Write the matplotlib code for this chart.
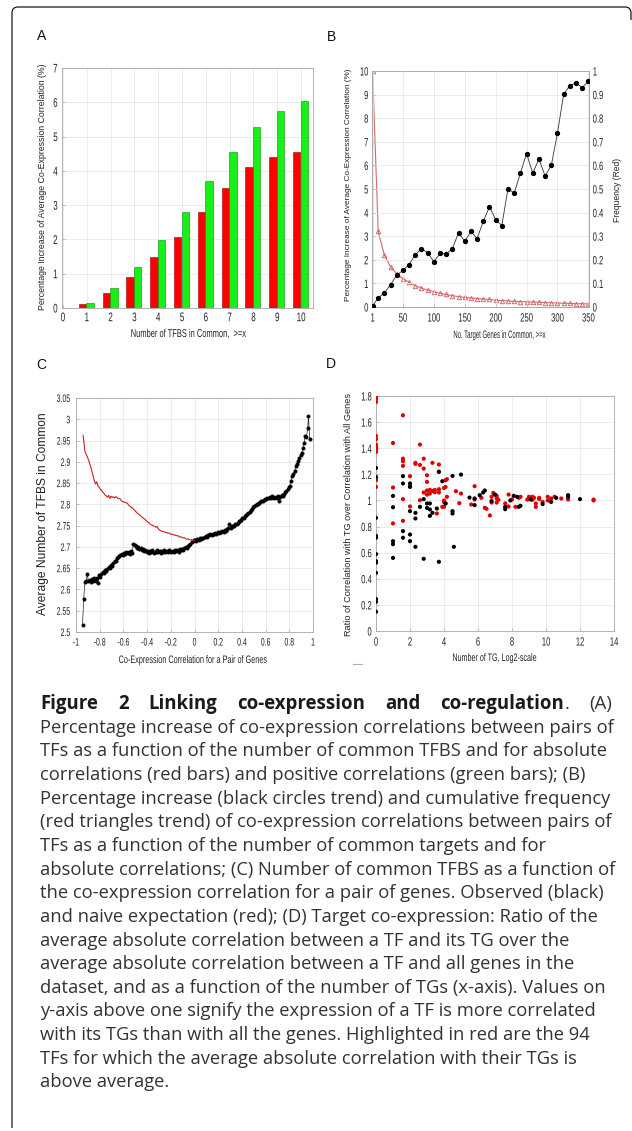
import matplotlib
matplotlib.use('Agg')
import matplotlib.pyplot as plt
from matplotlib import font_manager
from matplotlib.path import Path
from matplotlib.patches import PathPatch
from matplotlib.lines import Line2D
from matplotlib.patheffects import AbstractPathEffect
from matplotlib.transforms import Affine2D
import numpy as np

W, H = 632, 1131

# ---------------- data ----------------
# Panel A
tfbs_x = [1, 2, 3, 4, 5, 6, 7, 8, 9, 10]
abs_corr = [0.13, 0.44, 0.90, 1.49, 2.07, 2.79, 3.49, 4.12, 4.41, 4.54]
pos_corr = [0.16, 0.57, 1.20, 1.98, 2.80, 3.70, 4.55, 5.29, 5.76, 6.03]

# Panel B
tg_x = [1, 10, 20, 30, 40, 50, 60, 70, 80, 90, 100, 110, 120, 130, 140, 150, 160, 170,
        180, 190, 200, 210, 220, 230, 240, 250, 260, 270, 280, 290, 300, 310, 320, 330, 340, 350]
pct_inc = [0.05, 0.38, 0.6, 0.95, 1.35, 1.55, 1.8, 2.22, 2.47, 2.3, 1.92, 2.27, 2.25, 2.47,
           3.15, 2.78, 3.2, 2.9, 3.63, 4.25, 3.7, 3.45, 5.02, 4.82, 5.67, 6.5, 5.67, 6.27,
           5.55, 6.0, 7.37, 9.02, 9.38, 9.5, 9.3, 9.56]
freq = [1.0, 0.32, 0.22, 0.17, 0.14, 0.12, 0.105, 0.09, 0.08, 0.072, 0.065, 0.058, 0.053,
        0.048, 0.044, 0.041, 0.038, 0.036, 0.034, 0.032, 0.029, 0.027, 0.026, 0.024, 0.023,
        0.022, 0.021, 0.020, 0.019, 0.018, 0.017, 0.016, 0.015, 0.014, 0.014, 0.013]
b_xticks = [1, 50, 100, 150, 200, 250, 300, 350]

# Panel C
obs_x = list(np.round(np.arange(-0.945, 0.956, 0.01), 3)) + [0.962, 0.972]
obs_y = [2.517, 2.578, 2.617, 2.620, 2.636, 2.619, 2.622, 2.618, 2.624, 2.621,
         2.626, 2.619, 2.628, 2.615, 2.633, 2.630, 2.637, 2.641, 2.639, 2.645,
         2.643, 2.648, 2.652, 2.650, 2.657, 2.655, 2.662, 2.666, 2.668, 2.674,
         2.676, 2.679, 2.681, 2.684, 2.682, 2.686, 2.684, 2.688, 2.685, 2.689,
         2.684, 2.690, 2.686, 2.707, 2.704, 2.701, 2.698, 2.700, 2.695, 2.697,
         2.692, 2.695, 2.690, 2.693, 2.688, 2.691, 2.686, 2.690, 2.687, 2.692,
         2.685, 2.689, 2.687, 2.692, 2.688, 2.691, 2.686, 2.690, 2.688, 2.693,
         2.689, 2.691, 2.687, 2.692, 2.690, 2.688, 2.691, 2.689, 2.693, 2.690,
         2.692, 2.689, 2.694, 2.692, 2.695, 2.693, 2.697, 2.699, 2.697, 2.701,
         2.704, 2.708, 2.711, 2.713, 2.716, 2.717, 2.715, 2.719, 2.716, 2.720,
         2.718, 2.722, 2.721, 2.724, 2.726, 2.724, 2.728, 2.727, 2.730, 2.728,
         2.731, 2.730, 2.733, 2.731, 2.735, 2.733, 2.736, 2.734, 2.738, 2.736,
         2.740, 2.738, 2.741, 2.744, 2.755, 2.745, 2.748, 2.750, 2.749, 2.753,
         2.755, 2.757, 2.760, 2.762, 2.764, 2.767, 2.769, 2.772, 2.774, 2.777,
         2.780, 2.783, 2.787, 2.790, 2.793, 2.796, 2.799, 2.801, 2.802, 2.804,
         2.806, 2.808, 2.809, 2.811, 2.812, 2.813, 2.815, 2.816, 2.818, 2.816,
         2.819, 2.817, 2.815, 2.818, 2.814, 2.820, 2.809, 2.818, 2.822, 2.820,
         2.825, 2.828, 2.832, 2.835, 2.840, 2.844, 2.856, 2.866, 2.872, 2.878,
         2.889, 2.896, 2.903, 2.909, 2.915, 2.921, 2.933, 2.945, 2.961, 2.958,
         2.979, 3.007, 2.953]
exp_x = [-0.94] + list(np.round(np.arange(-0.935, -0.004, 0.01), 3)) + [0.002]
exp_y = [2.962,
         2.950, 2.925, 2.918, 2.912, 2.905, 2.896, 2.888, 2.877, 2.866, 2.855,
         2.848, 2.853, 2.844, 2.840, 2.836, 2.832, 2.829, 2.826, 2.822, 2.820,
         2.817, 2.821, 2.814, 2.819, 2.816, 2.818, 2.815, 2.818, 2.817, 2.814,
         2.814, 2.812, 2.808, 2.806, 2.806, 2.804, 2.804, 2.802, 2.798, 2.796,
         2.793, 2.792, 2.789, 2.786, 2.783, 2.780, 2.778, 2.776, 2.773, 2.771,
         2.768, 2.766, 2.764, 2.761, 2.758, 2.757, 2.754, 2.752, 2.751, 2.749,
         2.748, 2.746, 2.748, 2.742, 2.740, 2.738, 2.737, 2.736, 2.735, 2.734,
         2.734, 2.732, 2.733, 2.731, 2.729, 2.730, 2.728, 2.728, 2.726, 2.727,
         2.725, 2.723, 2.724, 2.722, 2.721, 2.722, 2.719, 2.718, 2.719, 2.717,
         2.716, 2.717, 2.715, 2.716,
         2.715]

# Panel D
red_x = [0]*12 + [1]*3 + [1.585]*6 + [2]*3 + [2.32]*2 + [2.585]*3 + [2.807]*3 + [3]*4 + \
        [3.17]*2 + [3.32]*2 + [3.46]*2 + [3.58] + [3.7]*4 + [3.9] + [4]*4 + [4.09]*3 + \
        [4.17]*2 + [4.7, 4.9, 5.0, 5.6, 5.8, 5.8, 6.2, 6.4, 6.5, 6.7, 6.8, 6.8, 6.9,
                    7.1, 7.1, 7.1, 7.2, 7.6, 7.8, 7.8, 8.0, 8.2, 8.4, 8.5, 8.9, 9.0, 9.2, 9.2,
                    9.3, 9.4, 9.4, 9.6, 9.6, 9.8, 10.1, 10.1, 10.3, 10.5, 10.9, 11.3, 12.8, 12.8]
red_y = [1.79, 1.775, 1.754, 1.494, 1.469, 1.428, 1.41, 1.392, 1.372, 1.173, 1.155, 1.104,
         1.44, 1.099, 0.824,
         1.652, 1.32, 1.30, 1.265, 1.01, 0.844,
         1.186, 1.107, 0.954,
         1.288, 1.28,
         1.428, 1.272, 1.002,
         1.32, 1.244, 1.061,
         1.193, 1.142, 1.076, 1.045,
         1.081, 1.053,
         1.288, 1.073,
         1.063, 1.08,
         0.90,
         1.275, 1.22, 1.086, 1.061,
         0.951,
         1.096, 1.0, 0.989, 0.951,
         1.155, 1.104, 0.977,
         1.163, 1.028,
         1.071, 0.979, 1.053, 0.969, 1.109, 1.007, 1.02, 0.943, 0.936, 0.885, 1.028, 0.984,
         1.058, 1.035, 1.015, 0.984, 1.005, 0.977, 1.045, 0.954, 1.007, 0.951, 1.02, 1.028,
         1.007, 1.028, 1.028, 1.005, 1.02, 0.977, 0.951, 1.02, 1.01, 0.989, 1.0, 1.028,
         1.015, 1.028, 1.015, 1.007, 1.007, 1.0]
blk_x = [0]*12 + [1]*5 + [1.585]*4 + [2]*5 + [2.32]*3 + [2.585] + [2.807]*2 + [3]*2 + \
        [3.17]*3 + [3.32, 3.58, 3.7, 3.7, 3.9, 4.09, 4.5, 4.5, 4.5, 4.58, 5.0, 5.5, 5.8, 5.8,
                    6.1, 6.3, 6.4, 6.8, 7.0, 7.6, 7.6, 7.9, 8.1, 8.3, 8.4, 8.5, 9.1, 9.8, 10.3,
                    10.6, 11.3, 11.3, 12.0]
blk_y = [1.249, 1.18, 0.867, 0.729, 0.714, 0.589, 0.535, 0.523, 0.446, 0.245, 0.224, 0.148,
         1.035, 0.948, 0.688, 0.665, 0.56,
         1.186, 1.13, 0.765, 0.714,
         1.13, 1.104, 0.918, 0.739, 0.688,
         0.905, 0.862, 0.645,
         0.951,
         1.01, 0.553,
         0.943, 0.977,
         0.977, 0.931, 0.882,
         0.905, 0.938, 1.219, 0.53, 1.147, 0.977, 1.188, 0.918, 0.90, 0.645, 1.198, 1.022,
         1.015, 0.964, 1.04, 1.061, 1.076, 0.995, 1.045, 0.951, 0.933, 1.0, 1.035, 1.028,
         0.951, 0.959, 1.007, 0.972, 0.989, 1.02, 1.04, 1.028, 1.01]

caption_lines = [
    "Percentage increase of co-expression correlations between pairs of",
    "TFs as a function of the number of common TFBS and for absolute",
    "correlations (red bars) and positive correlations (green bars); (B)",
    "Percentage increase (black circles trend) and cumulative frequency",
    "(red triangles trend) of co-expression correlations between pairs of",
    "TFs as a function of the number of common targets and for",
    "absolute correlations; (C) Number of common TFBS as a function of",
    "the co-expression correlation for a pair of genes. Observed (black)",
    "and naive expectation (red); (D) Target co-expression: Ratio of the",
    "average absolute correlation between a TF and its TG over the",
    "average absolute correlation between a TF and all genes in the",
    "dataset, and as a function of the number of TGs (x-axis). Values on",
    "y-axis above one signify the expression of a TF is more correlated",
    "with its TGs than with all the genes. Highlighted in red are the 94",
    "TFs for which the average absolute correlation with their TGs is",
    "above average.",
]

# ---------------- fonts ----------------
avail = {f.name for f in font_manager.fontManager.ttflist}
ARIAL = 'Liberation Sans'
CAPF = 'Open Sans' if 'Open Sans' in avail else 'Noto Sans'
plt.rcParams['font.family'] = [ARIAL, 'DejaVu Sans']


class HSqueeze(AbstractPathEffect):
    """Draw text narrower (like a condensed face), anchored at left/center/right."""

    def __init__(self, sx, anchor='center'):
        super().__init__()
        self.sx = sx
        self.anchor = anchor

    def draw_path(self, renderer, gc, tpath, affine, rgbFace=None):
        ext = tpath.get_extents()
        if self.anchor == 'left':
            cx = ext.x0
        elif self.anchor == 'right':
            cx = ext.x1
        else:
            cx = 0.5 * (ext.x0 + ext.x1)
        pre = Affine2D().translate(-cx, 0).scale(self.sx, 1).translate(cx, 0)
        renderer.draw_path(gc, tpath, pre + affine, rgbFace)


fig = plt.figure(figsize=(W / 100, H / 100), dpi=100)
renderer = fig.canvas.get_renderer()


def ax_px(x0, y0, x1, y1):
    return fig.add_axes([x0 / W, 1 - y1 / H, (x1 - x0) / W, (y1 - y0) / H])


def fx(x):
    return x / W


def fy(y):
    return 1 - y / H


SPINE = '#a8a8a8'
GRID = '#e4e4e4'
TXT = '#222222'
SQ = 0.64


def style(ax, pad=2.5):
    for s in ax.spines.values():
        s.set_color(SPINE)
        s.set_linewidth(0.6)
    ax.grid(True, color=GRID, lw=0.5)
    ax.set_axisbelow(True)
    ax.tick_params(direction='in', length=2, width=0.5, color=SPINE,
                   pad=pad, labelcolor=TXT)


def squeeze_ticks(ax, size, which='both', yanchor='right'):
    if which in ('both', 'x'):
        for lab in ax.get_xticklabels():
            lab.set_fontsize(size)
            lab.set_path_effects([HSqueeze(SQ, 'center')])
    if which in ('both', 'y'):
        for lab in ax.get_yticklabels():
            lab.set_fontsize(size)
            lab.set_path_effects([HSqueeze(SQ, yanchor)])


# ---------------- Panel A ----------------
axA = ax_px(62, 68, 313, 308)
style(axA)
xa = np.array(tfbs_x, dtype=float)
axA.bar(xa - 0.18, abs_corr, width=0.31, color='#ff0000', edgecolor='#990000', linewidth=0.4)
axA.bar(xa + 0.14, pos_corr, width=0.31, color='#18f018', edgecolor='#0a8a0a', linewidth=0.4)
axA.set_xlim(-0.04, 10.5)
axA.set_ylim(0, 7)
axA.set_xticks(range(0, 11))
axA.set_yticks(range(0, 8))
axA.tick_params(axis='x', pad=3)
axA.tick_params(axis='y', pad=3)
squeeze_ticks(axA, 9.0)

# ---------------- Panel B ----------------
axB = ax_px(372, 71, 589, 307)
style(axB)
axB2 = axB.twinx()
style(axB2)
axB2.grid(False)
axB.plot(tg_x, pct_inc, color='#333333', lw=0.6, marker='o', ms=2.8,
         mfc='black', mec='black', zorder=3)
axB2.plot(tg_x, freq, color='#d46a6a', lw=0.8, marker='^', ms=3.2,
          mfc='none', mec='#d46a6a', mew=0.7)
axB.set_xlim(0, 351)
axB.set_ylim(0, 10)
axB2.set_ylim(0, 1)
axB.set_xticks(b_xticks)
axB.set_yticks(range(0, 11))
axB2.set_yticks(np.round(np.arange(0, 1.01, 0.1), 1))
axB2.set_yticklabels(['0', '0.1', '0.2', '0.3', '0.4', '0.5', '0.6', '0.7', '0.8', '0.9', '1'])
axB.tick_params(axis='x', pad=4)
axB.set_zorder(axB2.get_zorder() + 1)
axB.patch.set_visible(False)
squeeze_ticks(axB, 8.6)
squeeze_ticks(axB2, 8.6, 'y', yanchor='left')

# ---------------- Panel C ----------------
axC = ax_px(76, 398, 313, 632)
style(axC, pad=4)
axC.plot(obs_x, obs_y, color='#222222', lw=0.5, marker='o', ms=2.6,
         mfc='black', mec='black', mew=0.2, zorder=3)
axC.plot(exp_x, exp_y, color='#cc2020', lw=0.8, zorder=4)
axC.set_xlim(-1, 1)
axC.set_ylim(2.5, 3.05)
axC.set_xticks(np.round(np.arange(-1, 1.01, 0.2), 1))
axC.set_xticklabels(['-1', '-0.8', '-0.6', '-0.4', '-0.2', '0', '0.2', '0.4', '0.6', '0.8', '1'])
axC.set_yticks(np.round(np.arange(2.5, 3.051, 0.05), 2))
axC.set_yticklabels(['2.5', '2.55', '2.6', '2.65', '2.7', '2.75', '2.8', '2.85', '2.9',
                     '2.95', '3', '3.05'])
squeeze_ticks(axC, 7.8)

# ---------------- Panel D ----------------
axD = ax_px(376, 396, 614, 631)
style(axD, pad=3)
axD.scatter(red_x, red_y, s=9, color='#e00000', edgecolors='none', zorder=3)
axD.scatter(blk_x, blk_y, s=9, color='black', edgecolors='none', zorder=3)
axD.set_xlim(0, 14)
axD.set_ylim(0, 1.8)
axD.set_xticks(range(0, 15, 2))
axD.set_yticks(np.round(np.arange(0, 1.81, 0.2), 1))
axD.set_yticklabels(['0', '0.2', '0.4', '0.6', '0.8', '1', '1.2', '1.4', '1.6', '1.8'])
axD.tick_params(axis='x', pad=4)
squeeze_ticks(axD, 8.6)


# ---------------- axis labels ----------------
def hlabel(x, y, s, size, target_w):
    t = fig.text(fx(x), fy(y), s, ha='center', va='center', fontsize=size,
                 family=ARIAL, color=TXT)
    w = t.get_window_extent(renderer).width
    t.set_path_effects([HSqueeze(min(1.0, target_w / w), 'center')])
    return t


def vlabel(x, y, s, target_h):
    t = fig.text(fx(x), fy(y), s, ha='center', va='center', fontsize=7,
                 family=ARIAL, rotation=90, color=TXT)
    h = t.get_window_extent(renderer).height
    t.set_fontsize(7 * target_h / h)
    return t


hlabel(188, 334, 'Number of TFBS in Common,  >=x', 8.2, 115)
vlabel(43, 187, 'Percentage Increase of Average Co-Expression Correlation (%)', 248)
hlabel(500, 335, 'No. Target Genes in Common, >=x', 7.8, 93)
vlabel(348, 185, 'Percentage Increase of Average Co-Expression Correlation (%)', 231)
vlabel(618, 190, 'Frequency (Red)', 64)
vlabel(43, 514, 'Average Number of TFBS in Common', 202)
hlabel(194, 660, 'Co-Expression Correlation for a Pair of Genes', 7.8, 150)
hlabel(495, 658, 'Number of TG, Log2-scale', 7.8, 85)
vlabel(349, 514, 'Ratio of Correlation with TG over Correlation with All Genes', 240)

for s, (x, y) in zip('ABCD', [(42, 36), (331, 37), (41, 365), (331, 364)]):
    fig.text(fx(x), fy(y), s, ha='center', va='center', fontsize=10, family=ARIAL,
             color='#111111')

# stray dash under panel D
fig.add_artist(Line2D([fx(353), fx(362)], [fy(664), fy(664)], color='#b0b0b0', lw=0.8))

# ---------------- frame ----------------
verts = [(12, 1128), (12, 13), (12, 7), (18, 7), (625, 7), (631, 7), (631, 13), (631, 20)]
codes = [Path.MOVETO, Path.LINETO, Path.CURVE3, Path.CURVE3, Path.LINETO, Path.CURVE3,
         Path.CURVE3, Path.LINETO]
verts_f = [(fx(x), fy(y)) for x, y in verts]
fig.add_artist(PathPatch(Path(verts_f, codes), fill=False, edgecolor='#1a1a1a', lw=0.9,
                         transform=fig.transFigure))

# ---------------- caption ----------------
CAPC = '#333333'
LEFT, RIGHT = 40, 612
BASE0, STEP = 709, 23.65
probe = fig.text(0, 0, caption_lines[0], fontsize=10, family=CAPF)
wcur = probe.get_window_extent(renderer).width
capsize = 10 * (RIGHT - LEFT) / wcur
probe.remove()

# justified first line
tokens = [('Figure', 'bold', True), ('2', 'bold', True), ('Linking', 'bold', True),
          ('co-expression', 'bold', True), ('and', 'bold', True),
          ('co-regulation', 'bold', False), ('.', 'normal', True), ('(A)', 'normal', False)]
widths = []
for s, wgt, _ in tokens:
    t = fig.text(0, 0, s, fontsize=capsize * 1.02, family=CAPF, weight=wgt)
    widths.append(t.get_window_extent(renderer).width)
    t.remove()
ngaps = sum(1 for tk in tokens if tk[2])
gap = (RIGHT - LEFT - sum(widths)) / ngaps
x = LEFT
for (s, wgt, g), w in zip(tokens, widths):
    fig.text(fx(x), fy(BASE0), s, fontsize=capsize * 1.02, family=CAPF, weight=wgt,
             va='baseline', ha='left', color='#1a1a1a' if wgt == 'bold' else CAPC)
    x += w + (gap if g else 0)

for i, line in enumerate(caption_lines):
    fig.text(fx(LEFT), fy(BASE0 + STEP * (i + 1)), line, fontsize=capsize, family=CAPF,
             va='baseline', ha='left', color=CAPC)

fig.savefig('out.png', dpi=100)
